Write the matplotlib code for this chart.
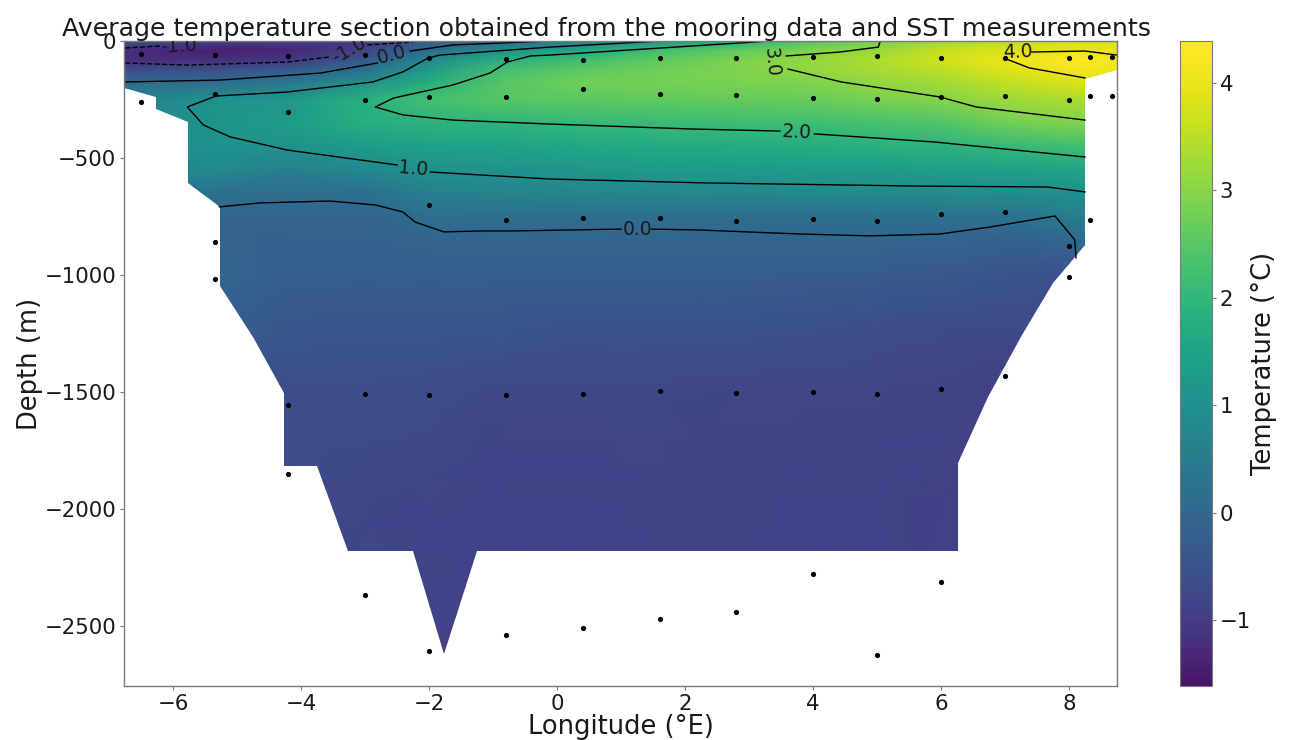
"""Average temperature section from mooring data and SST, with isotherms and instrument positions."""

import matplotlib
matplotlib.use("Agg")
import matplotlib.pyplot as plt
import numpy as np
from matplotlib.colors import ListedColormap
from matplotlib.patches import Polygon

# temperature field (rows = depth, columns = longitude)
grid_lon = [-6.8, -5.3, -4.2, -3, -2, -0.8, 0.4, 1.6, 2.8, 4, 5, 6, 7, 8, 8.3, 8.8]
grid_depth = [0, -40, -80, -130, -180, -250, -350, -450, -550, -650, -750, -850, -1000, -1250, -1500, -2000, -2700]
grid_temp = [
    [-0.6, -1.0, -1.0, -1.1, -0.2, 0.0, 0.6, 1.0, 1.8, 2.4, 2.8, 3.2, 3.5, 3.75, 3.8, 3.7],
    [-1.25, -1.4, -1.35, -0.85, 0.1, 1.05, 1.6, 2.2, 2.6, 2.9, 3.15, 3.6, 3.85, 3.98, 3.98, 3.95],
    [-1.2, -1.2, -1.05, -0.35, 0.85, 1.85, 2.2, 2.6, 2.85, 3.15, 3.4, 3.7, 4.0, 4.35, 4.35, 4.2],
    [-0.55, -0.45, -0.25, 0.3, 1.35, 2.3, 2.6, 2.75, 2.9, 3.1, 3.3, 3.5, 3.85, 4.1, 4.1, 4.0],
    [0.1, 0.15, 0.45, 1.0, 1.8, 2.5, 2.75, 2.8, 2.85, 2.9, 3.1, 3.25, 3.55, 3.8, 3.8, 3.75],
    [0.6, 1.1, 1.2, 1.85, 2.25, 2.5, 2.55, 2.6, 2.65, 2.7, 2.85, 2.95, 3.2, 3.35, 3.35, 3.3],
    [0.8, 1.15, 1.3, 1.8, 1.9, 1.95, 2.05, 2.1, 2.15, 2.2, 2.3, 2.4, 2.75, 2.9, 2.9, 2.9],
    [0.8, 1.05, 1.05, 1.3, 1.45, 1.5, 1.6, 1.65, 1.7, 1.75, 1.85, 1.9, 2.05, 2.2, 2.2, 2.2],
    [0.7, 0.85, 0.6, 0.85, 1.05, 1.1, 1.2, 1.25, 1.25, 1.3, 1.3, 1.35, 1.4, 1.5, 1.5, 1.5],
    [0.4, 0.2, 0.15, 0.2, 0.6, 0.7, 0.75, 0.8, 0.8, 0.85, 0.85, 0.9, 0.9, 0.95, 0.95, 0.95],
    [0.0, -0.05, -0.05, -0.05, 0.15, 0.15, 0.15, 0.15, 0.15, 0.2, 0.2, 0.25, 0.25, 0.5, 0.6, 0.6],
    [-0.1, -0.1, -0.15, -0.15, -0.05, -0.05, -0.05, -0.05, -0.05, -0.03, -0.03, -0.05, -0.15, 0.0, 0.2, 0.2],
    [0.0, 0.0, -0.25, -0.25, -0.25, -0.25, -0.25, -0.25, -0.25, -0.28, -0.3, -0.35, -0.45, -0.55, -0.3, -0.3],
    [-0.2, -0.2, -0.4, -0.45, -0.42, -0.47, -0.55, -0.55, -0.55, -0.6, -0.65, -0.68, -0.72, -0.72, -0.68, -0.68],
    [-0.65, -0.65, -0.65, -0.67, -0.67, -0.75, -0.75, -0.75, -0.8, -0.8, -0.8, -0.85, -0.9, -0.9, -0.9, -0.9],
    [-0.72, -0.72, -0.72, -0.77, -0.82, -0.87, -0.87, -0.85, -0.85, -0.87, -0.87, -0.92, -0.92, -0.92, -0.92, -0.92],
    [-0.9, -0.9, -0.9, -0.9, -0.9, -0.9, -0.9, -0.9, -0.9, -0.9, -0.9, -0.9, -0.9, -0.9, -0.9, -0.9],
]

# outline of the filled section
section_lon = [-6.77, 8.75, 8.75, 8.25, 8.25, 8.09, 7.75, 7.27, 6.73, 6.27, 6.27, -1.25, -1.77, -2.25, -3.27,
               -3.75, -4.27, -4.27, -4.75, -5.27, -5.27, -5.77, -5.77, -6.27, -6.27, -6.77]
section_depth = [0, 0, -124, -162, -872, -923, -1034, -1257, -1522, -1804, -2180, -2180, -2620, -2180, -2180,
                 -1816, -1816, -1504, -1265, -1047, -709, -607, -346, -291, -239, -201]

# instrument positions
point_lon = [-6.5, -5.34, -4.2, -3, -2, -0.8, 0.4, 1.6, 2.8, 4, 5, 6, 7, 8, 8.33, 8.67,
             -6.5, -5.34, -4.2, -3, -2, -0.8, 0.4, 1.6, 2.8, 4, 5, 6, 7, 8, 8.33, 8.67,
             -5.34, -2, -0.8, 0.4, 1.6, 2.8, 4, 5, 6, 7, 8, 8.33,
             -5.34, 8,
             -4.2, -3, -2, -0.8, 0.4, 1.6, 2.8, 4, 5, 6, 7,
             -4.2, -3, -2, -0.8, 0.4, 1.6, 2.8, 4, 5, 6]
point_depth = [-56, -60, -64, -60, -73, -77, -81, -73, -73, -68, -64, -73, -73, -73, -68, -68,
               -261, -226, -303, -252, -239, -239, -205, -226, -231, -244, -248, -239, -235, -252, -235, -235,
               -859, -701, -765, -756, -756, -769, -761, -769, -739, -731, -876, -765,
               -1017, -1009,
               -1556, -1509, -1513, -1513, -1509, -1496, -1504, -1500, -1509, -1487, -1431,
               -1851, -2368, -2607, -2539, -2509, -2470, -2440, -2278, -2624, -2312]

# isotherms, nan where the inline label breaks the line
iso_m1_lon = [-6.75, -6.2, np.nan, -6.75, -5.78, -4.22, -3.55, np.nan, -2.97, -2.25]
iso_m1_depth = [-30, -21, np.nan, -94, -103, -90, -68, np.nan, -17, -4]
iso_0a_lon = [-6.75, -5.27, -3.7, -2.81, np.nan, -2.3, -1.63, -0.11]
iso_0a_depth = [-175, -167, -137, -94, np.nan, -43, -17, 0]
iso_0b_lon = [-5.28, -4.64, -3.55, -2.84, -2.41, -2.22, -1.77, -1.2, -0.73, 1.0, np.nan, 1.48, 2.23, 3.8, 4.89,
              5.98, 6.77, 7.78, 8.09, 8.11]
iso_0b_depth = [-709, -692, -684, -701, -731, -774, -816, -812, -812, -804, np.nan, -804, -808, -825, -833,
                -825, -795, -748, -850, -927]
iso_1_lon = [1.61, -0.11, -1.83, -2.02, -2.41, -2.88, -4.22, -5.33, -5.78, -5.53, -5.11, -4.22, -2.5, np.nan,
             -1.98, -0.11, 2.38, 5.61, 7.66, 8.25]
iso_1_depth = [0, -26, -60, -73, -132, -175, -218, -235, -282, -359, -410, -466, -530, np.nan,
               -560, -590, -607, -620, -624, -645]
iso_2_lon = [3.33, 1.61, -0.11, -0.42, -0.78, -1.05, -1.63, -2.56, -2.84, -2.41, -1.63, -0.11, 2.08, 3.48, np.nan,
             4.02, 5.91, 8.25]
iso_2_depth = [0, -30, -60, -64, -90, -137, -188, -244, -282, -316, -338, -355, -376, -385, np.nan,
               -397, -432, -496]
iso_3_lon = [5.05, 5.02, 4.42, 3.58, np.nan, 3.61, 4.44, 5.98, 6.55, 8.25]
iso_3_depth = [0, -26, -47, -64, np.nan, -120, -175, -239, -282, -338]
iso_4_lon = [7.42, 8.25, 8.75, np.nan, 6.98, 7.38, 8.25]
iso_4_depth = [-47, -43, -60, np.nan, -73, -115, -158]

label_text = ["-1.0", "-1.0", "0.0", "1.0", "2.0", "0.0", "3.0", "4.0"]
label_lon = [-5.92, -3.26, -2.58, -2.25, 3.75, 1.25, 3.35, 7.2]
label_depth = [-21, -38, -60, -547, -389, -804, -90, -47]
label_rot = [4, 30, 15, -5, -3, 0, -85, 2]

lon_ticks = [-6, -4, -2, 0, 2, 4, 6, 8]
depth_ticks = [0, -500, -1000, -1500, -2000, -2500]
bar_ticks = [-1, 0, 1, 2, 3, 4]

# how temperature maps onto viridis
bar_temp = [-1.61, -1, 0, 1, 2, 3, 4, 4.39]
bar_shade = [0.05, 0.18, 0.33, 0.50, 0.66, 0.82, 0.97, 1.0]

TEMP_MIN = -1.61
TEMP_MAX = 4.39
TEXT = "#1a1a1a"
EDGE = "#7a7a7a"


def main():
    W, H = 1289, 740
    fig = plt.figure(figsize=(W / 100, H / 100), dpi=100)
    ax = fig.add_axes([124 / W, (H - 686) / H, 993 / W, 645 / H])

    shades = np.interp(np.linspace(TEMP_MIN, TEMP_MAX, 256), bar_temp, bar_shade)
    cmap = ListedColormap(plt.get_cmap("viridis")(shades))

    mesh = ax.pcolormesh(grid_lon, grid_depth, np.array(grid_temp), shading="gouraud",
                         cmap=cmap, vmin=TEMP_MIN, vmax=TEMP_MAX)
    outline = Polygon(np.column_stack([section_lon, section_depth]), closed=True,
                      transform=ax.transData, facecolor="none", edgecolor="none")
    ax.add_patch(outline)
    mesh.set_clip_path(outline)

    for x, y in [(iso_0a_lon, iso_0a_depth), (iso_0b_lon, iso_0b_depth), (iso_1_lon, iso_1_depth),
                 (iso_2_lon, iso_2_depth), (iso_3_lon, iso_3_depth), (iso_4_lon, iso_4_depth)]:
        ax.plot(x, y, color="black", lw=1.0)
    ax.plot(iso_m1_lon, iso_m1_depth, color="black", lw=1.0, ls="--")

    for s, x, y, r in zip(label_text, label_lon, label_depth, label_rot):
        ax.text(x, y, s, fontsize=13.5, rotation=r, ha="center", va="center",
                rotation_mode="anchor", color=TEXT, clip_on=True)

    ax.scatter(point_lon, point_depth, s=14, color="black", linewidths=0, zorder=3)

    ax.set_xlim(-6.77, 8.75)
    ax.set_ylim(-2757, 0)
    ax.set_xticks(lon_ticks)
    ax.set_yticks(depth_ticks)
    ax.tick_params(labelsize=15.3, length=3, width=0.8, pad=2.5, color=EDGE, labelcolor=TEXT)
    for spine in ax.spines.values():
        spine.set_color(EDGE)
        spine.set_linewidth(1.0)

    ax.set_xlabel("Longitude (°E)", fontsize=18.5, color=TEXT, labelpad=0)
    ax.set_ylabel("Depth (m)", fontsize=18.5, color=TEXT, labelpad=1)
    ax.set_title("Average temperature section obtained from the mooring data and SST measurements",
                 fontsize=18.2, color=TEXT, x=(606 - 124) / 993, pad=1)

    cax = fig.add_axes([1180 / W, (H - 686) / H, 32 / W, 645 / H])
    cbar = fig.colorbar(mesh, cax=cax)
    cbar.set_ticks(bar_ticks)
    cbar.ax.tick_params(labelsize=15.3, length=3, width=0.8, pad=2.5, color=EDGE, labelcolor=TEXT)
    cbar.outline.set_edgecolor(EDGE)
    cbar.set_label("Temperature (°C)", fontsize=18.5, color=TEXT, labelpad=0)

    fig.savefig("out.png", dpi=100)


if __name__ == "__main__":
    main()
